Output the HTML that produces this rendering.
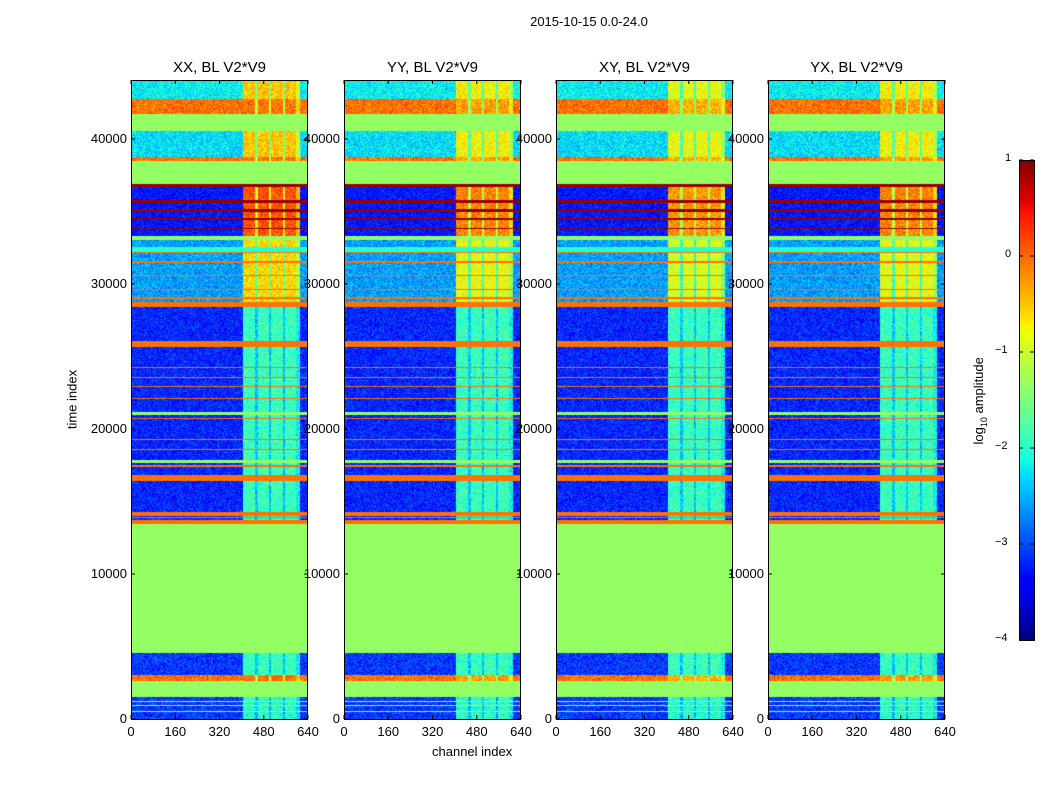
<!DOCTYPE html>
<html><head><meta charset="utf-8">
<style>
body{margin:0;background:#fff;}
#fig{position:relative;width:1050px;height:800px;background:#fff;font-family:"Liberation Sans",sans-serif;overflow:hidden}
.t{position:absolute;font-size:13px;color:#000;white-space:nowrap;z-index:3}
canvas{position:absolute;z-index:1}
svg{position:absolute;left:0;top:0;z-index:2}
</style></head><body>
<div id="fig">
<div class="t" style="left:0;width:1178px;text-align:center;top:14px">2015-10-15 0.0-24.0</div>
<div class="t" style="left:22px;transform:rotate(-90deg);transform-origin:center;width:100px;text-align:center;top:392px">time index</div>
<div class="t" style="left:432px;top:744px">channel index</div>
<div class="t" style="left:920px;top:392px;transform:rotate(-90deg);width:120px;text-align:center">log<sub style="font-size:9px">10</sub> amplitude</div>
<svg id="ov" width="1050" height="800"></svg>
</div>
<script>
// ---- data ----
const panelTitles=["XX, BL V2*V9","YY, BL V2*V9","XY, BL V2*V9","YX, BL V2*V9"];
const panelRightShift=[0,-0.25,-0.35,-0.25];
const xTicks=[0,160,320,480,640];
const yTicks=[0,10000,20000,30000,40000];
const cbTicks=[1,0,-1,-2,-3,-4];
const regionStart=[0,1500,2600,3030,4550,13450,28550,33310,36900,38480,38760,40550,41720,42760];
const regionEnd  =[1500,2600,3030,4550,13450,28550,33310,36900,38480,38760,40550,41720,42760,44100];
const regionLeft =[-3.1,-1.35,-0.05,-3.1,-1.35,-3.2,-2.6,-3.3,-1.35,-0.05,-2.3,-1.35,-0.05,-2.2];
const regionRight=[-2.0,-1.35,-0.05,-1.9,-1.35,-1.9,-0.6,0.1,-1.35,-0.05,-0.5,-1.35,-0.05,-0.5];
const lineT=[13450,13860,14000,16410,17380,17660,18550,19240,20690,20970,22070,22900,23520,24210,25650,25790,28410,28550,28970,29590,30550,31450,32140,32210,33040,33790,34410,34970,35590,36690,500,900,1200];
const lineW=[250,80,280,420,140,200,80,80,80,200,80,80,80,80,140,300,140,200,130,70,70,140,70,340,270,70,140,200,200,210,60,60,60];
const lineVal=[-0.05,-0.05,-0.05,-0.05,-0.05,-1.35,-0.05,-0.05,-0.05,-1.35,-0.05,-0.05,-0.05,-0.05,-0.05,-0.05,-0.05,-0.05,-0.05,-0.05,-0.05,-0.05,-0.05,-2.0,-1.35,0.9,0.9,0.9,0.9,0.9,-1.35,-1.35,-1.35];
const chanStart=[405,450,500,550,598];
const chanEnd  =[450,460,508,558,611];
const chanDelta=[0,-1.0,-1.0,-1.0,-0.5];

// ---- layout ----
const panelX=[131,344,556,768], PW=177, PT=80, PB=719;
const yOf=t=>PB-(t/10000)*145;
const xOf=(i,c)=>panelX[i]+c/640*PW;
function jet(x){x=Math.max(0,Math.min(1,x));
 const f=(pts)=>{for(let k=1;k<pts.length;k++){if(x<=pts[k][0]){const a=pts[k-1],b=pts[k];return a[1]+(b[1]-a[1])*(x-a[0])/(b[0]-a[0]);}}return pts[pts.length-1][1];};
 const r=f([[0,0],[0.35,0],[0.66,1],[0.89,1],[1,0.5]]);
 const g=f([[0,0],[0.125,0],[0.375,1],[0.64,1],[0.91,0],[1,0]]);
 const b=f([[0,0.5],[0.11,1],[0.34,1],[0.65,0],[1,0]]);
 return [r*255|0,g*255|0,b*255|0];}
const vcol=v=>jet((v+4)/5);
function hash(a,b){let h=(a*374761393+b*668265263)|0;h=(h^(h>>>13))*1274126177|0;return ((h^(h>>>16))>>>0)/4294967295;}

const fig=document.getElementById('fig');
const ov=document.getElementById('ov');
const NS='http://www.w3.org/2000/svg';
function sv(tag,attrs){const e=document.createElementNS(NS,tag);for(const k in attrs)e.setAttribute(k,attrs[k]);ov.appendChild(e);return e;}

for(let p=0;p<4;p++){
 const cv=document.createElement('canvas');
 
 
 const H=PB-PT;cv.width=PW;cv.height=H;cv.style.left=panelX[p]+'px';cv.style.top=PT+'px';
 fig.appendChild(cv);
 const ctx=cv.getContext('2d');const img=ctx.createImageData(PW,H);
 for(let y=0;y<H;y++){
  const t=(PB-(PT+y+0.5))/145*10000;
  let L=-1.35,R=-1.35,isLine=false,lv=0;
  for(let k=0;k<regionStart.length;k++)if(t>=regionStart[k]&&t<regionEnd[k]){L=regionLeft[k];R=regionRight[k];}
  for(let k=0;k<lineT.length;k++)if(t>=lineT[k]&&t<lineT[k]+lineW[k]){isLine=true;lv=lineVal[k];}
  for(let x=0;x<PW;x++){
   const c=(x+0.5)/PW*640;let v;
   if(isLine)v=lv;
   else if(L===-1.35&&R===-1.35)v=-1.35;
   else{
    const inR=c>=405&&c<611;
    v=inR?R+(R>-1?panelRightShift[p]:0):L;
    if(inR)for(let k=0;k<chanStart.length;k++)if(c>=chanStart[k]&&c<chanEnd[k])v+=chanDelta[k]*(R>-1?1:0.5);
    v+=(hash(x+p*999,y)-0.5)*0.7;
   }
   const col=vcol(v),o=(y*PW+x)*4;
   img.data[o]=col[0];img.data[o+1]=col[1];img.data[o+2]=col[2];img.data[o+3]=255;
  }
 }
 ctx.putImageData(img,0,0);
 sv('rect',{x:panelX[p]+0.5,y:PT+0.5,width:PW-1,height:PB-PT,fill:'none',stroke:'#000','stroke-width':1,});
 const ti=document.createElement('div');ti.className='t';ti.style.cssText=`left:${panelX[p]}px;width:${PW}px;text-align:center;top:59px;font-size:15px`;
 ti.textContent=panelTitles[p];
 
 
 fig.appendChild(ti);
 xTicks.forEach(c=>{const x=xOf(p,c);
  sv('line',{x1:x,x2:x,y1:PB,y2:PB-4,stroke:'#000'});sv('line',{x1:x,x2:x,y1:PT,y2:PT+4,stroke:'#000'});
  const d=document.createElement('div');d.className='t';d.style.left=(x-20)+'px';d.style.width='40px';d.style.textAlign='center';d.style.top='724px';d.textContent=c;
  
  
  fig.appendChild(d);});
 yTicks.forEach(t=>{const y=yOf(t);
  sv('line',{x1:panelX[p],x2:panelX[p]+4,y1:y,y2:y,stroke:'#000'});sv('line',{x1:panelX[p]+PW-4,x2:panelX[p]+PW,y1:y,y2:y,stroke:'#000'});
  const d=document.createElement('div');d.className='t';d.style.left=(panelX[p]-64)+'px';d.style.width='60px';d.style.textAlign='right';d.style.top=(y-8)+'px';d.textContent=t;
  
  
  fig.appendChild(d);});
}
// colorbar
const cb=document.createElement('canvas');cb.width=15;cb.height=480;cb.style.left='1019px';cb.style.top='160px';


fig.appendChild(cb);
const cx=cb.getContext('2d');
for(let y=0;y<480;y++){const c=jet(1-(y+0.5)/480);cx.fillStyle=`rgb(${c[0]},${c[1]},${c[2]})`;cx.fillRect(0,y,15,1);}
sv('rect',{x:1019.5,y:160.5,width:15,height:480,fill:'none',stroke:'#000'});
cbTicks.forEach(v=>{const y=160+(1-v)/5*480;
 sv('line',{x1:1019,x2:1023,y1:y,y2:y,stroke:'#000'});sv('line',{x1:1030,x2:1034,y1:y,y2:y,stroke:'#000'});
 const d=document.createElement('div');d.className='t';d.style.left=(v<0?995:1005)+'px';d.style.top=(y-8)+'px';d.style.fontSize='11px';d.textContent=v<0?'\u2212'+(-v):v;
 
 
 fig.appendChild(d);});
</script>
</body></html>
